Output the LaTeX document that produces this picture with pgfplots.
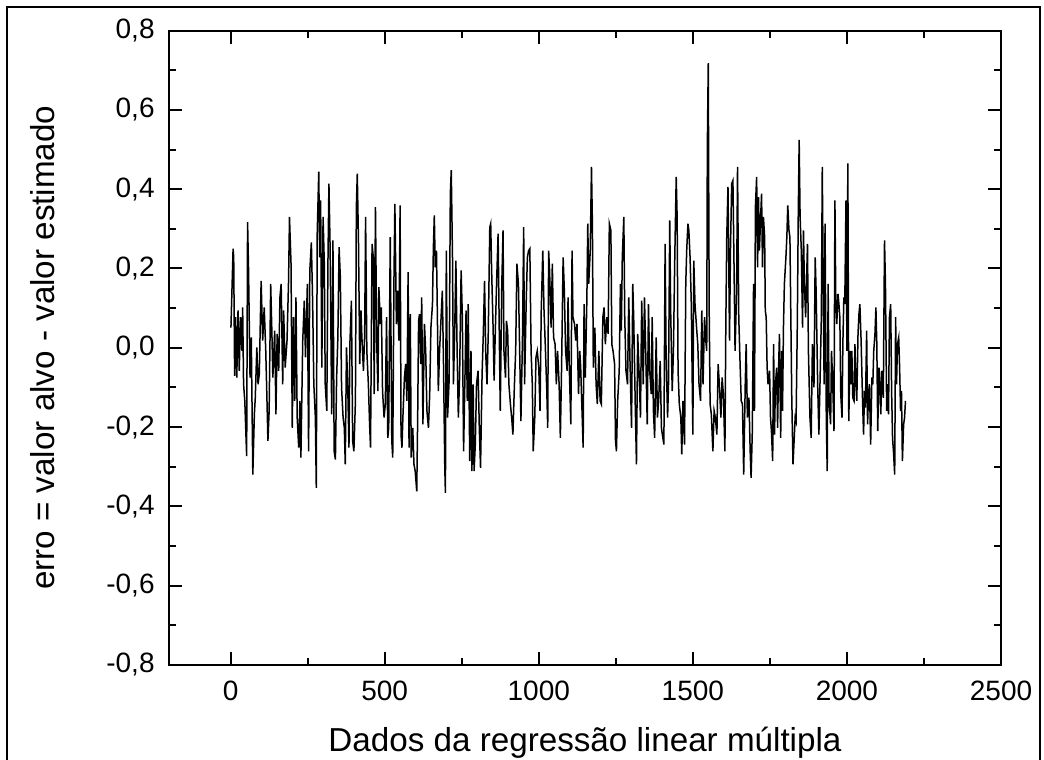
\documentclass[border=0pt]{standalone}
\usepackage{fontspec}
\setmainfont{Liberation Sans}
\usepackage{pgfplots}
\pgfplotsset{compat=1.18}
\begin{document}
\begin{tikzpicture}
\useasboundingbox (0,0) rectangle (522pt,380pt);
\draw[line width=1pt] (3.5pt,-10pt) rectangle (520pt,376.5pt);
\begin{axis}[
  at={(84.5pt,47.5pt)}, anchor=south west,
  scale only axis, width=416pt, height=317.2pt,
  xmin=-200, xmax=2500, ymin=-0.8, ymax=0.8,
  xtick={0,500,1000,1500,2000,2500},
  xticklabels={0,500,1000,1500,2000,2500},
  ytick={-0.8,-0.6,-0.4,-0.2,0,0.2,0.4,0.6,0.8},
  yticklabels={{-0,8},{-0,6},{-0,4},{-0,2},{0,0},{0,2},{0,4},{0,6},{0,8}},
  minor x tick num=1, minor y tick num=1,
  tick align=inside,
  major tick length=6.5pt, minor tick length=3.5pt,
  every tick/.style={line width=1pt, black},
  axis line style={line width=1pt},
  tick label style={font=\fontsize{14}{16}\selectfont},
  xticklabel style={anchor=base, yshift=-17.5pt},
  yticklabel style={anchor=east, inner sep=0pt, xshift=-7pt},
  xlabel={Dados da regressão linear múltipla},
  ylabel={erro = valor alvo - valor estimado},
  label style={font=\fontsize{16.6}{20}\selectfont},
  xlabel style={at={(axis description cs:0.5,0)}, anchor=base, yshift=-43.3pt},
  ylabel style={at={(axis description cs:-0.1382,0.5)}, anchor=base, rotate=0},
]
\addplot[black, line width=0.75pt] coordinates {
(1,0.051)(8,0.250)(10,0.228)(13,-0.071)(16,0.077)(20,-0.075)(24,0.094)(28,-0.058)(32,0.077)(37,-0.008)(39,0.102)(42,-0.092)(46,-0.134)(52,-0.273)(55,0.317)(58,0.203)(63,-0.075)(67,0.026)(72,-0.320)(77,-0.168)(80,-0.126)(85,0.001)(89,-0.092)(93,-0.067)(99,0.169)(104,0.018)(109,0.102)(114,-0.008)(118,-0.134)(121,-0.235)(125,-0.159)(130,0.161)(134,0.035)(137,-0.075)(143,0.043)(147,-0.168)(151,0.035)(156,-0.058)(160,0.127)(164,0.161)(169,-0.092)(172,0.094)(177,-0.050)(183,0.018)(188,0.169)(191,0.330)(196,0.212)(200,-0.202)(204,0.077)(208,-0.134)(212,0.127)(216,-0.176)(221,-0.252)(225,-0.134)(228,-0.277)(234,0.018)(239,0.119)(243,-0.024)(249,0.161)(253,-0.261)(257,0.195)(262,0.266)(266,0.119)(270,-0.092)(275,-0.176)(278,-0.353)(281,0.288)(286,0.444)(289,0.228)(292,0.372)(296,-0.050)(300,0.330)(304,0.212)(307,-0.092)(312,-0.159)(316,0.228)(319,0.414)(323,0.245)(328,-0.168)(332,0.271)(336,-0.261)(340,-0.282)(344,-0.075)(348,0.026)(352,0.254)(356,0.178)(360,-0.100)(365,-0.176)(369,-0.202)(372,-0.294)(376,0.001)(380,-0.092)(384,-0.252)(387,0.009)(392,0.119)(396,-0.235)(400,-0.261)(405,-0.134)(408,0.355)(411,0.439)(415,0.262)(419,-0.041)(423,0.094)(426,0.026)(431,-0.058)(435,0.035)(438,0.330)(442,-0.008)(447,-0.092)(451,-0.193)(454,-0.252)(459,0.262)(463,0.228)(466,-0.117)(470,0.355)(474,0.018)(478,-0.109)(481,0.153)(486,0.060)(489,0.102)(493,-0.109)(498,-0.176)(502,-0.142)(506,0.077)(510,-0.227)(513,-0.202)(518,0.279)(523,-0.235)(526,-0.277)(530,0.169)
(533,0.363)(538,0.060)(542,0.144)(546,0.018)(550,0.359)(553,-0.219)(556,-0.252)(559,-0.176)(564,-0.075)(568,-0.041)(572,-0.134)(576,0.191)(579,-0.252)(583,0.085)(586,-0.277)(591,-0.202)(595,-0.294)(599,-0.311)(604,-0.362)(607,-0.176)(610,0.068)(613,0.085)(617,-0.041)(620,0.127)(624,-0.193)(629,0.060)(633,-0.008)(637,-0.159)(642,-0.202)(646,-0.117)(650,0.051)(655,0.110)(658,0.254)(661,0.334)(664,0.203)(668,0.245)(671,0.077)(674,-0.109)(678,-0.008)(683,0.077)(687,0.144)(691,-0.050)(695,-0.303)(697,-0.366)(700,0.245)(704,-0.176)(709,-0.083)(713,0.389)(716,0.448)(720,0.228)(723,-0.092)(727,0.035)(731,0.220)(735,-0.008)(739,-0.176)(743,-0.075)(748,0.195)(752,0.077)(756,-0.261)(761,-0.050)(764,0.094)(768,-0.134)(771,0.110)(776,-0.286)(780,-0.008)(783,-0.311)(787,-0.092)(790,-0.311)(794,-0.244)(798,-0.092)(803,-0.058)(807,-0.202)(811,-0.303)(816,-0.067)(820,0.035)(824,0.169)(828,-0.016)(832,-0.092)(836,0.035)(841,0.304)(844,0.313)(847,0.195)(852,0.043)(855,-0.083)(859,0.043)(863,0.161)(868,0.288)(872,0.026)(875,-0.159)(880,0.161)(884,0.296)(887,-0.008)(892,-0.075)(895,0.068)(899,0.043)(903,-0.092)(908,-0.142)(912,-0.176)(916,-0.219)(921,-0.092)(925,-0.008)(929,0.212)(934,0.161)(938,-0.008)(942,-0.185)(947,0.018)(951,0.304)(954,-0.092)(959,0.110)(963,0.228)(967,0.245)(971,0.250)(975,-0.008)(979,-0.092)(982,-0.261)(987,-0.176)(991,-0.024)(995,-0.008)(1000,-0.050)(1004,-0.159)(1008,0.094)(1013,0.245)(1017,0.094)(1021,0.009)(1026,-0.109)(1029,-0.202)(1032,0.245)(1035,0.195)(1040,0.051)(1044,0.212)(1048,0.026)(1053,0.009)(1057,-0.092)(1061,-0.008)(1066,-0.092)(1070,-0.227)(1074,-0.050)(1079,0.228)(1083,0.144)(1087,-0.008)(1092,-0.058)
(1095,0.127)(1099,-0.050)(1104,-0.193)(1108,0.245)(1111,0.077)(1116,0.060)(1120,0.018)(1124,0.060)(1129,-0.117)(1133,-0.008)(1136,-0.050)(1141,-0.176)(1144,-0.252)(1147,0.110)(1151,-0.075)(1156,0.119)(1159,0.313)(1162,0.161)(1167,0.245)(1171,0.456)(1174,0.313)(1177,-0.050)(1182,0.051)(1186,-0.092)(1190,-0.142)(1195,-0.008)(1199,-0.134)(1203,-0.142)(1208,0.077)(1212,0.102)(1216,0.009)(1221,0.077)(1225,0.035)(1229,0.313)(1234,0.296)(1237,0.009)(1241,-0.008)(1246,-0.041)(1249,-0.235)(1252,-0.261)(1256,-0.134)(1261,-0.058)(1265,0.161)(1268,0.043)(1271,0.228)(1276,0.330)(1279,0.077)(1283,-0.058)(1288,-0.092)(1292,0.127)(1296,-0.033)(1301,-0.202)(1305,0.161)(1308,0.077)(1313,-0.142)(1317,-0.294)(1321,0.035)(1326,-0.075)(1330,-0.176)(1334,0.119)(1339,-0.092)(1343,0.127)(1347,-0.008)(1352,-0.193)(1356,0.110)(1360,-0.058)(1365,-0.117)(1368,0.077)(1372,-0.159)(1376,-0.227)(1381,0.026)(1385,-0.176)(1389,-0.134)(1394,-0.033)(1398,-0.202)(1401,-0.219)(1406,-0.244)(1410,0.262)(1413,-0.008)(1418,-0.176)(1421,-0.092)(1425,0.321)(1428,0.094)(1433,-0.109)(1437,-0.008)(1441,0.212)(1446,0.431)(1449,0.330)(1452,-0.058)(1456,-0.142)(1461,-0.176)(1464,-0.269)(1468,-0.134)(1473,-0.244)(1477,0.161)(1480,0.245)(1484,0.313)(1487,0.296)(1491,0.228)(1495,0.110)(1500,-0.219)(1503,0.220)(1507,0.110)(1512,0.051)(1516,0.009)(1520,-0.092)(1525,-0.134)(1529,0.094)(1533,-0.092)(1538,0.077)(1542,0.018)(1545,-0.008)(1547,0.507)(1550,0.718)(1553,0.094)(1556,-0.142)(1560,-0.168)(1565,-0.261)(1569,-0.159)(1573,-0.176)(1578,-0.219)(1582,-0.041)(1586,-0.092)(1591,-0.176)(1595,-0.075)(1599,-0.117)(1604,-0.261)(1607,0.060)(1610,0.279)(1614,0.406)(1619,0.018)(1622,0.245)(1626,0.414)(1630,0.422)(1633,0.245)(1637,-0.008)(1642,0.144)(1645,0.456)(1649,0.077)(1653,-0.033)
(1657,-0.134)(1661,-0.142)(1665,-0.320)(1670,-0.092)(1673,0.009)(1677,-0.176)(1682,-0.126)(1686,-0.261)(1689,-0.328)(1693,-0.210)(1697,0.161)(1700,-0.159)(1703,0.355)(1707,0.431)(1710,0.203)(1713,0.380)(1716,0.245)(1720,0.330)(1723,0.389)(1726,0.203)(1729,0.330)(1733,0.279)(1735,0.094)(1738,0.077)(1741,-0.050)(1744,-0.092)(1749,-0.058)(1752,-0.176)(1755,-0.210)(1759,-0.286)(1762,0.009)(1765,-0.219)(1768,-0.092)(1772,-0.050)(1775,-0.202)(1778,-0.058)(1781,0.035)(1785,-0.227)(1788,-0.008)(1791,-0.159)(1794,0.051)(1797,0.161)(1802,0.228)(1805,0.279)(1808,0.359)(1812,0.296)(1815,0.279)(1818,0.077)(1821,-0.126)(1825,-0.294)(1828,-0.244)(1832,-0.176)(1835,-0.185)(1839,0.060)(1842,0.330)(1845,0.524)(1848,0.330)(1852,0.245)(1856,0.051)(1859,0.296)(1862,0.161)(1866,0.077)(1869,0.169)(1872,0.262)(1875,-0.008)(1880,-0.176)(1884,-0.227)(1888,0.009)(1893,-0.100)(1897,0.228)(1900,0.144)(1905,-0.092)(1909,-0.219)(1913,-0.075)(1917,0.077)(1920,0.456)(1923,0.161)(1926,-0.092)(1929,0.313)(1933,-0.176)(1936,-0.311)(1939,0.161)(1942,-0.134)(1947,-0.193)(1950,-0.008)(1954,-0.092)(1958,-0.210)(1961,0.372)(1964,0.110)(1967,0.060)(1971,0.136)(1974,0.110)(1977,0.077)(1980,-0.117)(1984,-0.176)(1987,0.018)(1990,0.127)(1993,0.110)(1997,0.372)(2000,-0.008)(2003,0.465)(2006,-0.185)(2010,-0.008)(2013,-0.092)(2016,-0.008)(2019,-0.126)(2023,-0.134)(2026,0.009)(2029,-0.092)(2032,-0.134)(2036,0.035)(2039,0.085)(2042,0.110)(2046,0.018)(2051,-0.142)(2054,-0.219)(2057,-0.109)(2060,-0.151)(2064,0.043)(2067,-0.193)(2070,-0.117)(2073,-0.092)(2077,-0.244)(2081,-0.075)(2084,-0.092)(2087,-0.008)(2091,0.035)(2094,0.102)(2097,0.009)(2100,-0.210)(2104,-0.050)(2107,-0.092)(2110,-0.168)(2113,-0.058)(2118,-0.126)(2122,0.271)(2125,0.161)(2129,-0.159)(2132,-0.092)(2135,-0.168)(2138,0.077)(2142,0.110)(2145,-0.109)(2148,-0.227)(2151,-0.261)(2155,-0.320)(2158,0.077)(2161,-0.092)(2164,0.009)(2168,0.026)(2171,-0.050)(2174,-0.159)(2177,-0.109)(2180,-0.286)(2184,-0.193)(2187,-0.176)(2190,-0.134)
};
\end{axis}
\end{tikzpicture}
\end{document}
